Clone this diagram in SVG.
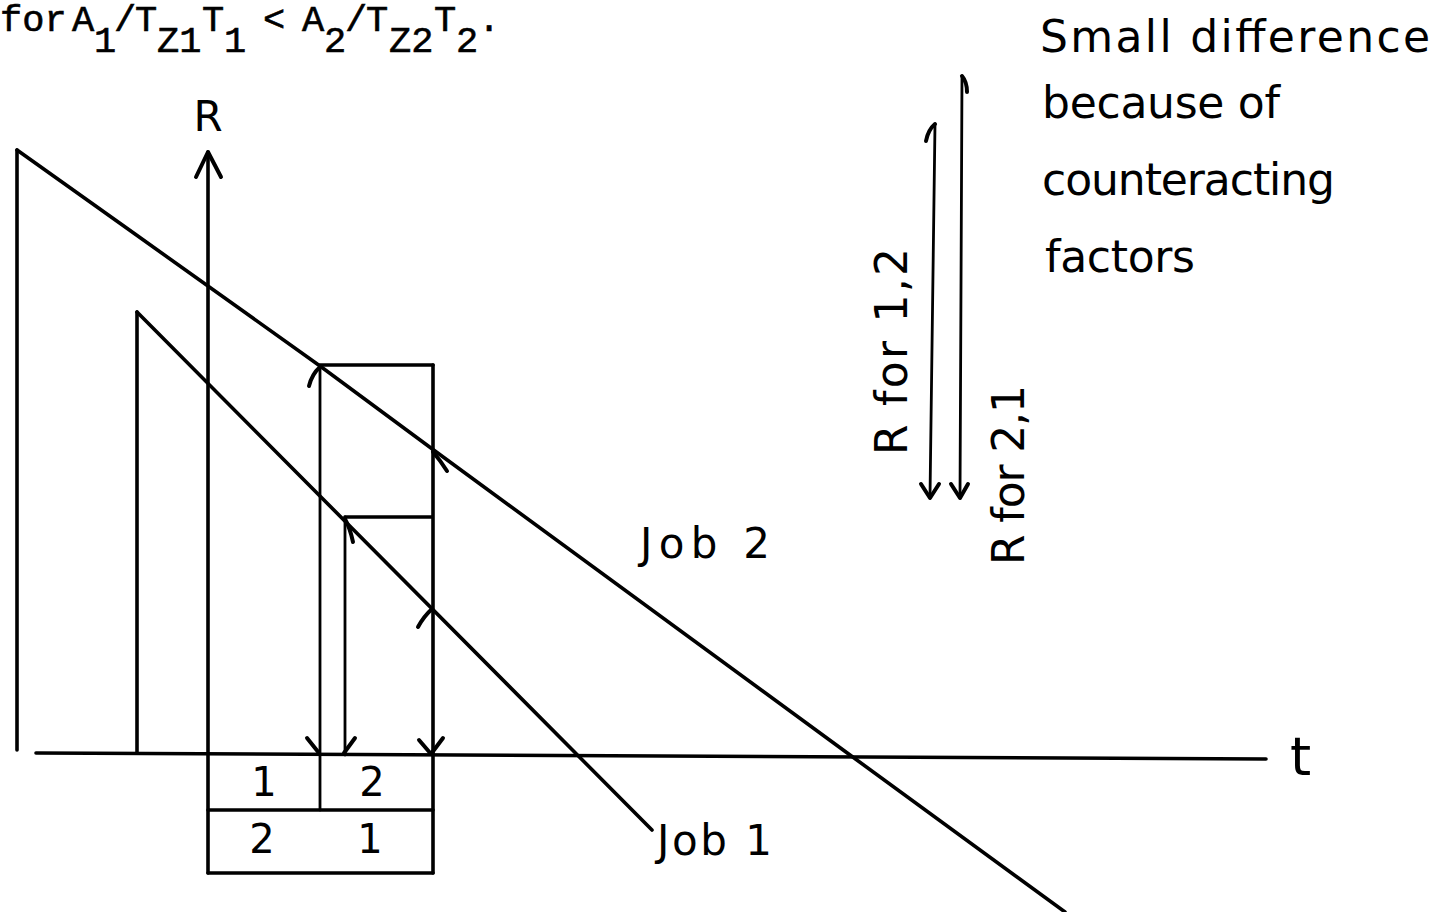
<svg xmlns="http://www.w3.org/2000/svg" width="1451" height="912" viewBox="0 0 1451 912">
<style>
.ln{fill:none;stroke:#000;stroke-width:3.6;stroke-linecap:round;stroke-linejoin:round}
.thin{fill:none;stroke:#000;stroke-width:2.8;stroke-linecap:round;stroke-linejoin:round}
.ah{fill:none;stroke:#000;stroke-width:4;stroke-linecap:round;stroke-linejoin:round}
.lr{font-family:"DejaVu Sans","Liberation Sans",sans-serif;fill:#000}
.mono{font-family:"Liberation Mono","Courier New",monospace;font-size:37px;fill:#000;stroke:#000;stroke-width:0.6}
</style>
<rect width="1451" height="912" fill="#fff"/>
<g id="caption">
<text class="mono"><tspan x="0" y="31">for</tspan><tspan x="72" y="31">A</tspan><tspan x="94" y="52">1</tspan><tspan x="114" y="31">/</tspan><tspan x="135" y="31">T</tspan><tspan x="157" y="52">Z1</tspan><tspan x="202" y="31">T</tspan><tspan x="224" y="52">1</tspan><tspan x="263" y="31">&lt;</tspan><tspan x="302" y="31">A</tspan><tspan x="324" y="52">2</tspan><tspan x="345" y="31">/</tspan><tspan x="366" y="31">T</tspan><tspan x="389" y="52">Z2</tspan><tspan x="434" y="31">T</tspan><tspan x="456" y="52">2</tspan><tspan x="478" y="31">.</tspan></text>
</g>
<g id="note">
<text class="lr" font-size="44" x="1040" y="52" textLength="390" lengthAdjust="spacing">Small difference</text>
<text class="lr" font-size="44" x="1042" y="118" textLength="238" lengthAdjust="spacing">because of</text>
<text class="lr" font-size="44" x="1042" y="195" textLength="293" lengthAdjust="spacing">counteracting</text>
<text class="lr" font-size="44" x="1045" y="272" textLength="150" lengthAdjust="spacing">factors</text>
</g>
<g id="axis-t">
<line class="ln" x1="36" y1="753" x2="1266" y2="759"/>
<text class="lr" font-size="54" x="1290" y="775">t</text>
</g>
<g id="axis-R">
<line class="ln" x1="208" y1="152" x2="208" y2="873"/>
<path class="ah" d="M196,177 L208,152 L221,177"/>
<text class="lr" font-size="42" x="208" y="131" text-anchor="middle">R</text>
</g>
<g id="job2">
<line class="ln" x1="17" y1="150" x2="17" y2="750"/>
<polyline class="ln" points="17,150 135,234 320,366 435,451 850,755 1065,912"/>
<text class="lr" font-size="42" x="640" y="558" textLength="130" lengthAdjust="spacing">Job 2</text>
</g>
<g id="job1">
<line class="ln" x1="137" y1="312" x2="137" y2="752"/>
<line class="ln" x1="137" y1="312" x2="652" y2="830"/>
<text class="lr" font-size="42" x="657" y="855" textLength="115" lengthAdjust="spacing">Job 1</text>
</g>
<g id="sequence-box">
<line class="thin" x1="320" y1="366" x2="320" y2="810"/>
<line class="ln" x1="320" y1="365" x2="433" y2="365"/>
<line class="ln" x1="433" y1="365" x2="433" y2="873"/>
<line class="ln" x1="345" y1="517" x2="432" y2="517"/>
<line class="thin" x1="345" y1="517" x2="345" y2="755"/>
<line class="ln" x1="208" y1="810" x2="433" y2="810"/>
<line class="ln" x1="208" y1="873" x2="433" y2="873"/>
<text class="lr" font-size="40" x="264" y="796" text-anchor="middle">1</text>
<text class="lr" font-size="40" x="372" y="796" text-anchor="middle">2</text>
<text class="lr" font-size="40" x="262" y="853" text-anchor="middle">2</text>
<text class="lr" font-size="40" x="370" y="853" text-anchor="middle">1</text>
</g>
<g id="connectors">
<path class="ah" d="M309,386 Q312,374 320,367"/>
<path class="ah" d="M447,471 Q440,460 433,452"/>
<path class="ah" d="M353,542 Q350,528 345,519"/>
<path class="ah" d="M418,627 Q424,616 432,609"/>
<path class="ah" d="M307,738 L319,753"/>
<path class="ah" d="M355,738 L344,753"/>
<path class="ah" d="M419,740 L431,754 L443,738"/>
<line class="thin" x1="935" y1="124" x2="930" y2="497"/>
<path class="ah" d="M935,124 Q928,130 926,141"/>
<path class="ah" d="M921,484 L930,498 L939,484"/>
<line class="thin" x1="962" y1="76" x2="960" y2="497"/>
<path class="ah" d="M962,76 Q967,82 967,92"/>
<path class="ah" d="M951,484 L960,498 L968,484"/>
</g>
<g id="labels-R">
<text class="lr" font-size="44" x="907" y="455" transform="rotate(-90 907 455)" textLength="207" lengthAdjust="spacing">R for 1,2</text>
<text class="lr" font-size="44" x="1024" y="565" transform="rotate(-90 1024 565)" textLength="180" lengthAdjust="spacing">R for 2,1</text>
</g>
</svg>
